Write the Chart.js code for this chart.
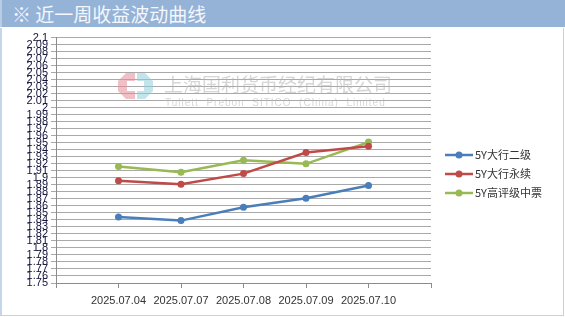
<!DOCTYPE html>
<html>
<head>
<meta charset="utf-8">
<script src="https://cdn.jsdelivr.net/npm/chart.js@4"></script>
<style>
  body { margin: 0; background: #fff; }
  #wrap { position: relative; width: 565px; height: 317px; overflow: hidden; }
  #title {
    height: 27px; background: #95b3d7; color: #f4f7fb;
    font: 19px "Noto Sans CJK SC", sans-serif; line-height: 27px;
    padding-left: 10px; box-sizing: border-box; border-left: 2px solid #b8cce4;
  }
  #box {
    position: absolute; left: 0; top: 28px; width: 564px; height: 288px;
    border-left: 2px solid #c5d5ea; border-right: 1px solid #d0d0d0; border-bottom: 1px solid #d0d0d0;
    box-sizing: border-box;
  }
  #c { position: absolute; left: 0; top: 28px; }
</style>
</head>
<body>
<div id="wrap">
  <div id="title">※ 近一周收益波动曲线</div>
  <div id="box"></div>
  <canvas id="c" width="565" height="289"></canvas>
</div>
<script>
const dates = ["", "2025.07.04", "2025.07.07", "2025.07.08", "2025.07.09", "2025.07.10", ""];
const seriesNames = ["5Y大行二级", "5Y大行永续", "5Y高评级中票"];
const bankTier2 = [null, 1.844, 1.839, 1.858, 1.871, 1.889, null];
const bankPerp = [null, 1.896, 1.891, 1.906, 1.936, 1.945, null];
const highGradeMtn = [null, 1.916, 1.908, 1.925, 1.920, 1.951, null];
const yMin = 1.75, yMax = 2.1, yStep = 0.01;
const colors = ["#4a7ebb", "#be4b48", "#98b954"];

const watermark = {
  id: "watermark",
  beforeDatasetsDraw(chart) {
    const ctx = chart.ctx;
    ctx.save();
    ctx.globalAlpha = 0.55;
    // logo halves
    ctx.fillStyle = "#e58d98";
    ctx.beginPath();
    ctx.moveTo(135, 45); ctx.lineTo(126, 45); ctx.lineTo(118, 53); ctx.lineTo(118, 63);
    ctx.lineTo(126, 71); ctx.lineTo(135, 71); ctx.lineTo(135, 63); ctx.lineTo(127, 63);
    ctx.lineTo(127, 53); ctx.lineTo(135, 53); ctx.closePath(); ctx.fill();
    ctx.fillStyle = "#8fcfdc";
    ctx.beginPath();
    ctx.moveTo(137, 45); ctx.lineTo(145, 45); ctx.lineTo(153, 53); ctx.lineTo(153, 63);
    ctx.lineTo(145, 71); ctx.lineTo(137, 71); ctx.lineTo(137, 63); ctx.lineTo(144, 63);
    ctx.lineTo(144, 53); ctx.lineTo(137, 53); ctx.closePath(); ctx.fill();
    ctx.fillStyle = "#b4b4b4";
    ctx.textBaseline = "middle";
    ctx.font = '19px "Noto Sans CJK SC"';
    ctx.fillText("上海国利货币经纪有限公司", 164, 57);
    ctx.font = '10px "Liberation Sans"';
    if ("letterSpacing" in ctx) ctx.letterSpacing = "1px";
    ctx.fillText("Tullett  Prebon  SITICO  (China)  Limited", 165, 75);
    ctx.restore();
  }
};

const sideLegend = {
  id: "sideLegend",
  afterDraw(chart) {
    const ctx = chart.ctx;
    ctx.save();
    chart.data.datasets.forEach((ds, i) => {
      const y = 127 + i * 19;
      ctx.strokeStyle = ds.borderColor;
      ctx.lineWidth = 2.5;
      ctx.beginPath(); ctx.moveTo(445, y); ctx.lineTo(473, y); ctx.stroke();
      ctx.fillStyle = ds.borderColor;
      ctx.beginPath(); ctx.arc(459, y, 3.5, 0, Math.PI * 2); ctx.fill();
      ctx.fillStyle = "#333";
      ctx.font = '11px "Noto Sans CJK SC"';
      ctx.textBaseline = "middle";
      ctx.fillText(ds.label, 475, y);
    });
    ctx.restore();
  }
};

function makeSet(label, data, color) {
  return {
    label, data, borderColor: color, backgroundColor: color,
    borderWidth: 2.5, pointRadius: 3.5, pointBorderWidth: 0,
    pointBackgroundColor: color, tension: 0, fill: false
  };
}

new Chart(document.getElementById("c").getContext("2d"), {
  type: "line",
  data: {
    labels: dates,
    datasets: [
      makeSet(seriesNames[0], bankTier2, colors[0]),
      makeSet(seriesNames[1], bankPerp, colors[1]),
      makeSet(seriesNames[2], highGradeMtn, colors[2])
    ]
  },
  options: {
    responsive: false,
    devicePixelRatio: 1,
    animation: false,
    layout: { padding: { left: 0, top: 8, right: 134, bottom: 0 } },
    plugins: { legend: { display: false }, tooltip: { enabled: false } },
    scales: {
      x: {
        offset: false,
        afterFit: s => { s.height = 34; },
        grid: { drawOnChartArea: false, drawTicks: true, tickLength: 5, color: "#8c8c8c" },
        border: { color: "#8c8c8c" },
        ticks: { font: { family: "Liberation Sans", size: 11 }, color: "#333", padding: 6, maxRotation: 0, autoSkip: false }
      },
      y: {
        min: yMin, max: yMax,
        afterFit: s => { s.width = 56; },
        grid: { color: "#a9a9a9", tickLength: 5 },
        border: { color: "#8c8c8c" },
        ticks: {
          stepSize: yStep, autoSkip: false, padding: 3,
          font: { family: "Liberation Sans", size: 11 }, color: "#14143a",
          callback: v => String(parseFloat(v.toFixed(2)))
        }
      }
    }
  },
  plugins: [watermark, sideLegend]
});
</script>
</body>
</html>
